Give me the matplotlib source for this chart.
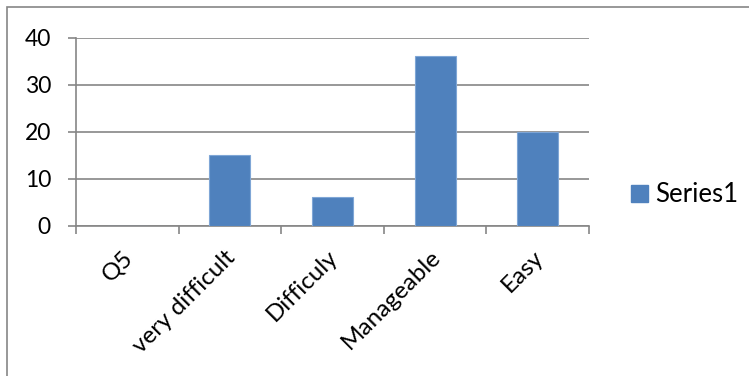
import matplotlib
matplotlib.use("Agg")
import matplotlib.pyplot as plt
from matplotlib.patches import Rectangle, Patch
import numpy as np

categories = ["Q5", "very difficult", "Difficuly", "Manageable", "Easy"]
values = [0, 15, 6, 36, 20]
yticks = [0, 10, 20, 30, 40]
series_name = "Series1"

plt.rcParams['font.family'] = ['Lato', 'DejaVu Sans']
W, H = 749, 376
fig = plt.figure(figsize=(W / 100, H / 100), dpi=100)

# outer chart border (top/left visible, right/bottom cut off)
fig.patches.append(Rectangle((7 / W, -0.1), 1.2, 1 - 7 / H + 0.1, transform=fig.transFigure,
                             fill=False, edgecolor="#868686", linewidth=1.2))

ax = fig.add_axes([76 / W, 1 - 225.7 / H, (589 - 76) / W, (225.7 - 37.7) / H])
x = np.arange(len(categories))
bar_color = "#4F81BD"
ax.bar(x, values, width=0.4, color=bar_color, edgecolor="#7FA6D6", linewidth=0.8, zorder=3)

ax.set_xlim(-0.5, len(categories) - 0.5)
ax.set_ylim(0, 40)
ax.set_yticks(yticks)
ax.set_yticklabels([str(v) for v in yticks])
ax.yaxis.grid(True, color="#868686", linewidth=1.2)
ax.set_axisbelow(True)

gray = "#868686"
for s in ["top", "right"]:
    ax.spines[s].set_visible(False)
for s in ["left", "bottom"]:
    ax.spines[s].set_color(gray)
    ax.spines[s].set_linewidth(1.2)

ax.tick_params(axis="y", length=6, width=1.2, color=gray, pad=12, labelsize=16.5)
ax.set_xticks(x - 0.05)
ax.set_xticklabels(categories, rotation=45, ha="right", rotation_mode="anchor", fontsize=17.5)
ax.tick_params(axis="x", which="major", length=0, pad=15)
ax.set_xticks(np.arange(len(categories) + 1) - 0.5, minor=True)
ax.tick_params(axis="x", which="minor", length=6, width=1.2, color=gray)

handle = Patch(facecolor=bar_color, edgecolor=bar_color)
fig.legend([handle], [series_name], loc="center left", bbox_to_anchor=(631 / W, 1 - 195 / H),
           frameon=False, fontsize=18.5, handlelength=0.65, handleheight=0.65, handletextpad=0.3,
           borderpad=0, borderaxespad=0)

fig.savefig("out.png", dpi=100)
